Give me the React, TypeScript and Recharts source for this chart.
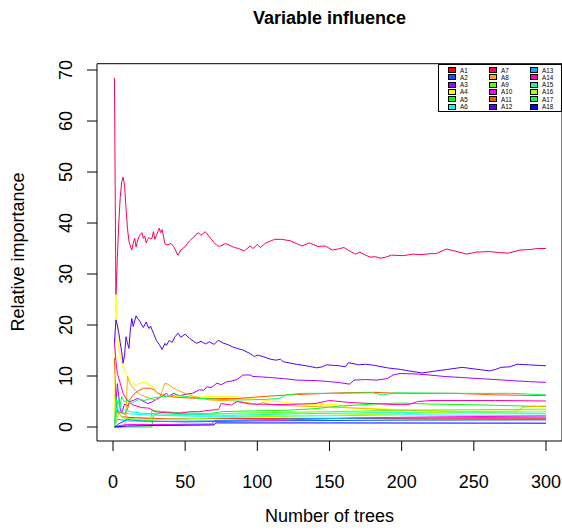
import { LineChart, Line, XAxis, YAxis, ReferenceArea } from 'recharts'

type Pt = [number, number]

// number of trees / relative importance
const A1: Pt[] = [[1, 13.5], [2, 5], [3, 3], [6, 2], [15, 1.8], [40, 1.6], [80, 1.7], [150, 1.7], [220, 1.6], [300, 1.6]]
const A2: Pt[] = [[1, 0], [4, 0.6], [10, 1.5], [20, 1.2], [50, 1], [100, 1.2], [200, 1.35], [300, 1.4]]
const A3: Pt[] = [[1, 0], [2, 4], [3, 8.5], [4, 6], [5, 3.5], [6, 2.8], [8, 4.5], [10, 4.2], [12, 5], [14, 5.2], [17, 5.6], [20, 5.2], [24, 4.6], [27, 4.9], [31, 5.6], [34, 6.1], [37, 6.6], [39, 6.1], [42, 6.6], [46, 6.1], [50, 6.4], [55, 6.6], [60, 7.3], [63, 7.2], [65, 7.9], [68, 7.7], [72, 8.6], [75, 8.3], [79, 8.9], [82, 9], [86, 9.3], [90, 10.2], [95, 10.2], [97, 9.9], [104, 9.8], [109, 9.7], [118, 9.5], [127, 9.2], [141, 9.1], [150, 8.9], [157, 8.7], [164, 8.4], [167, 9.2], [175, 9.3], [183, 9.2], [190, 9.5], [194, 10.2], [199, 10.5], [210, 10.4], [219, 10.2], [230, 9.9], [242, 9.7], [253, 9.5], [265, 9.3], [276, 9.1], [288, 8.9], [300, 8.75]]
const A4: Pt[] = [[1, 0], [2, 26], [3, 19], [4, 15.5], [5, 14], [6, 12.8], [7, 11.7], [8, 11.2], [10, 9.9], [12, 9], [14, 8.6], [16, 8.2], [18, 8.5], [20, 8.7], [23, 8.7], [25, 8.2], [28, 7.9], [30, 6.9], [33, 6.3], [40, 6.1], [50, 5.9], [60, 5.9], [70, 6], [84, 6], [95, 5.6], [110, 5.1], [120, 4.8], [130, 4.5], [155, 4.4], [165, 3.8], [200, 3.4], [240, 3], [270, 2.8], [300, 2.6]]
const A5: Pt[] = [[1, 0], [27, 0], [28, 2.3], [35, 3], [45, 2.8], [67, 2.6], [75, 3], [88, 3.1], [122, 3.3], [140, 3.6], [157, 4.1], [180, 4.5], [199, 4.7], [220, 4.5], [260, 4.3], [300, 4]]
const A6: Pt[] = [[1, 0], [2, 5.5], [4, 3], [8, 2.7], [15, 2.5], [30, 2.3], [60, 2.1], [100, 2.1], [150, 2.2], [200, 2.4], [250, 2.3], [300, 2.3]]
const A7: Pt[] = [[1, 68.5], [2, 26], [3, 33], [4, 40], [5, 45], [6, 48], [7, 49], [8, 47.5], [9, 43], [10, 39], [11, 36.5], [12, 35.5], [13, 34.7], [14, 36], [15, 37], [16, 35.3], [17, 36.5], [18, 37.3], [19, 37.8], [20, 38.1], [21, 37], [22, 37.4], [23, 36.1], [24, 36.8], [25, 37.2], [26, 36.9], [27, 37], [28, 38.3], [29, 36.8], [30, 37.5], [32, 39], [33, 38.1], [34, 38.7], [36, 35.9], [38, 35.7], [40, 36], [42, 35.4], [45, 33.7], [47, 34.7], [50, 35.4], [53, 36.5], [56, 37.3], [59, 38.1], [61, 37.6], [64, 38.3], [67, 37.2], [70, 36.2], [72, 35.6], [74, 35.4], [78, 36], [81, 35.6], [84, 35.2], [87, 35], [91, 34.5], [95, 35.5], [97, 35], [100, 35.8], [102, 35.2], [106, 36.1], [112, 36.8], [117, 36.8], [123, 36.5], [127, 36], [131, 35.5], [136, 36.1], [142, 35.4], [147, 35.5], [152, 34.7], [156, 34.9], [160, 35.2], [164, 34.5], [168, 33.9], [171, 34.3], [178, 33.3], [182, 33.4], [185, 33.1], [189, 33.3], [193, 33.7], [201, 33.6], [208, 33.9], [214, 33.8], [220, 34], [224, 34], [231, 34.9], [237, 34.5], [245, 33.9], [252, 34.3], [261, 34.4], [267, 34.2], [274, 34.1], [282, 34.7], [289, 34.8], [294, 35], [300, 35]]
const A8: Pt[] = [[1, 0], [8, 0], [9, 2], [10, 10], [11, 9], [13, 8], [16, 7], [19, 6.3], [22, 6], [26, 5.6], [29, 5.3], [32, 5.5], [34, 7], [36, 8.6], [38, 8.4], [41, 7.8], [44, 7.3], [50, 6.6], [56, 6], [62, 5.6], [67, 5.3], [75, 5.2], [84, 5.1], [95, 4.7], [100, 4.4], [104, 4.8], [110, 4.3], [130, 4.1], [160, 3.8], [195, 3.3], [230, 3.1], [265, 3], [280, 3.1], [284, 3.9], [300, 4.1]]
const A9: Pt[] = [[1, 0], [3, 3], [6, 2], [12, 1.5], [26, 1.2], [27, 3.3], [40, 2.8], [60, 2.5], [100, 2.8], [150, 3], [200, 3.3], [260, 3.4], [300, 3.5]]
const A10: Pt[] = [[1, 0], [5, 0.3], [10, 0.5], [40, 0.5], [69, 0.6], [70, 1.3], [120, 1.4], [170, 1.8], [230, 2], [300, 2.15]]
const A11: Pt[] = [[1, 0], [2, 3], [4, 3], [8, 2.5], [10, 3.5], [12, 5.5], [14, 6.3], [17, 7], [21, 7.6], [26, 7.6], [29, 7.2], [31, 6.6], [37, 6], [45, 5.8], [60, 5.6], [88, 5.6], [100, 5.9], [122, 6.3], [157, 6.7], [180, 6.8], [199, 6.6], [237, 6.6], [265, 6.3], [300, 6.15]]
const A12: Pt[] = [[1, 16.5], [2, 21], [3, 20], [4, 18.5], [5, 16.5], [6, 14.8], [7, 12.5], [8, 14], [9, 17.7], [10, 16.5], [11, 15.4], [12, 19], [13, 21.3], [14, 19.7], [15, 20.8], [16, 21.8], [17, 21.3], [18, 21], [20, 20], [21, 19.5], [23, 20.6], [24, 19.8], [25, 19.3], [26, 19.8], [28, 18.4], [30, 17], [32, 16.2], [34, 15.2], [36, 16.4], [37, 16], [39, 17], [41, 16.6], [43, 17.7], [45, 18.4], [47, 17.6], [50, 18.2], [53, 17.4], [58, 16.4], [61, 16.8], [64, 16.3], [67, 16.7], [70, 16.2], [73, 17], [76, 16.5], [80, 16.1], [83, 15.7], [86, 15.4], [90, 15.1], [95, 14.4], [98, 13.8], [100, 14.1], [104, 13.8], [109, 13.3], [113, 13.1], [116, 13.3], [118, 12.8], [127, 12.3], [134, 12], [141, 11.6], [145, 11.8], [148, 12.2], [152, 12.1], [157, 12], [161, 11.8], [163, 12.6], [167, 12.4], [170, 12.2], [175, 12.3], [181, 12.1], [190, 11.6], [199, 11.3], [205, 11], [214, 10.6], [219, 10.8], [224, 11], [232, 11.3], [242, 11.7], [250, 11.4], [261, 11], [265, 11.3], [269, 11.7], [275, 11.8], [280, 12.3], [288, 12.2], [300, 12]]
const A13: Pt[] = [[1, 0], [3, 1.5], [10, 1.2], [30, 1.1], [70, 1.2], [130, 1.6], [200, 1.8], [300, 1.9]]
const A14: Pt[] = [[1, 16.5], [2, 13], [3, 10.5], [5, 8.6], [7, 6.6], [10, 5.1], [14, 4.3], [20, 3.8], [25, 3.7], [29, 3], [37, 2.8], [46, 2.7], [53, 3], [60, 3], [67, 3.3], [73, 3.4], [75, 4.6], [82, 4.3], [86, 5], [95, 4.5], [118, 4.4], [140, 4.6], [150, 5.2], [164, 4.8], [195, 4.4], [205, 4.4], [211, 5], [221, 5.2], [265, 5.2], [300, 5.1]]
const A15: Pt[] = [[1, 0], [3, 5], [6, 3.5], [12, 3], [20, 2.7], [40, 2.5], [80, 2.3], [130, 2.6], [180, 2.8], [230, 2.8], [300, 2.7]]
const A16: Pt[] = [[1, 0], [4, 2.5], [8, 1.8], [20, 1.5], [50, 1.6], [100, 2], [150, 2.3], [200, 2.6], [250, 3.1], [300, 3.1]]
const A17: Pt[] = [[1, 6.3], [2, 5.9], [3, 4.5], [4, 5.5], [5, 4.2], [6, 6], [8, 4.8], [10, 5.5], [12, 4.5], [15, 5], [18, 5.4], [22, 5.2], [26, 5.6], [30, 5.8], [37, 6], [44, 6.3], [50, 6], [60, 5.6], [75, 5.4], [88, 5.3], [105, 5.4], [115, 5.6], [120, 6.3], [131, 6.6], [157, 6.6], [180, 6.7], [187, 6.3], [195, 6.7], [240, 6.6], [276, 6.6], [300, 6.3]]
const A18: Pt[] = [[1, 0], [10, 0.2], [30, 0.3], [70, 0.4], [71, 0.8], [150, 0.8], [300, 0.75]]

const names = ['A1', 'A2', 'A3', 'A4', 'A5', 'A6', 'A7', 'A8', 'A9', 'A10', 'A11', 'A12', 'A13', 'A14', 'A15', 'A16', 'A17', 'A18']
const values = [A1, A2, A3, A4, A5, A6, A7, A8, A9, A10, A11, A12, A13, A14, A15, A16, A17, A18]
const colors = ['#FF0000', '#0055FF', '#AA00FF', '#FFFF00', '#00FF00', '#00FFFF', '#FF0055', '#FFAA00', '#55FF00', '#FF00FF', '#FF5500', '#5500FF', '#00AAFF', '#FF00AA', '#00FFAA', '#AAFF00', '#00FF55', '#0000FF']

const xTicks = [0, 50, 100, 150, 200, 250, 300]
const yTicks = [0, 10, 20, 30, 40, 50, 60, 70]

const FONT = '"Liberation Sans", Arial, sans-serif'
const X_DOMAIN: [number, number] = [-11.09, 311.1]
const Y_DOMAIN: [number, number] = [-2.745, 71.24]

function XTick({ x, payload }: any) {
  return (
    <text x={x} y={482} textAnchor="middle" dominantBaseline="central" fontSize={18} fontFamily={FONT} fill="#000">
      {payload.value}
    </text>
  )
}

function YTick({ y, payload }: any) {
  return (
    <text x={66} y={y} transform={`rotate(-90 66 ${y})`} textAnchor="middle" dominantBaseline="central" fontSize={18} fontFamily={FONT} fill="#000">
      {payload.value}
    </text>
  )
}

function LegendBox() {
  const left = 438
  const top = 63.5
  return (
    <div style={{ position: 'absolute', left, top, width: 124, height: 48, border: '1px solid #000', boxSizing: 'border-box', background: '#fff' }}>
      {names.map((n, i) => {
        const col = Math.floor(i / 6)
        const row = i % 6
        return (
          <div key={n} style={{ position: 'absolute', left: 9 + col * 41, top: 2 + row * 7.3, height: 7, display: 'flex', alignItems: 'center' }}>
            <div style={{ width: 6, height: 4, background: colors[i], border: '1px solid #000', marginRight: 4 }} />
            <span style={{ fontSize: 6.3, lineHeight: '7px', fontFamily: FONT, color: '#000' }}>{n}</span>
          </div>
        )
      })}
    </div>
  )
}

export default function App() {
  return (
    <div style={{ position: 'absolute', left: 0, top: 0, width: 562, height: 532, background: '#fff' }}>
      <LineChart width={562} height={532} margin={{ top: 63.7, right: 0, bottom: 51, left: 57 }}>
        <XAxis type="number" dataKey="x" domain={X_DOMAIN} ticks={xTicks} allowDataOverflow axisLine={false} tickSize={10} tickLine={{ stroke: '#000' }} tick={<XTick />} height={40} />
        <YAxis type="number" domain={Y_DOMAIN} ticks={yTicks} allowDataOverflow axisLine={false} tickSize={10} tickLine={{ stroke: '#000' }} tick={<YTick />} width={40} />
        <ReferenceArea x1={X_DOMAIN[0]} x2={X_DOMAIN[1]} y1={Y_DOMAIN[0]} y2={Y_DOMAIN[1]} fill="none" stroke="#000" strokeWidth={1} ifOverflow="visible" />
        {values.map((pts, i) => (
          <Line
            key={names[i]}
            data={pts.map(([x, y]) => ({ x, y }))}
            dataKey="y"
            type="linear"
            stroke={colors[i]}
            strokeWidth={1}
            dot={false}
            activeDot={false}
            isAnimationActive={false}
          />
        ))}
      </LineChart>
      <div style={{ position: 'absolute', left: 97, width: 465, top: 8, textAlign: 'center', fontFamily: FONT, fontWeight: 'bold', fontSize: 18 }}>Variable influence</div>
      <div style={{ position: 'absolute', left: 97, width: 465, top: 506, textAlign: 'center', fontFamily: FONT, fontSize: 18 }}>Number of trees</div>
      <div style={{ position: 'absolute', left: 18, top: 252, width: 0, height: 0 }}>
        <div style={{ position: 'absolute', transform: 'translate(-50%, -50%) rotate(-90deg)', whiteSpace: 'nowrap', fontFamily: FONT, fontSize: 18 }}>Relative importance</div>
      </div>
      <LegendBox />
    </div>
  )
}
